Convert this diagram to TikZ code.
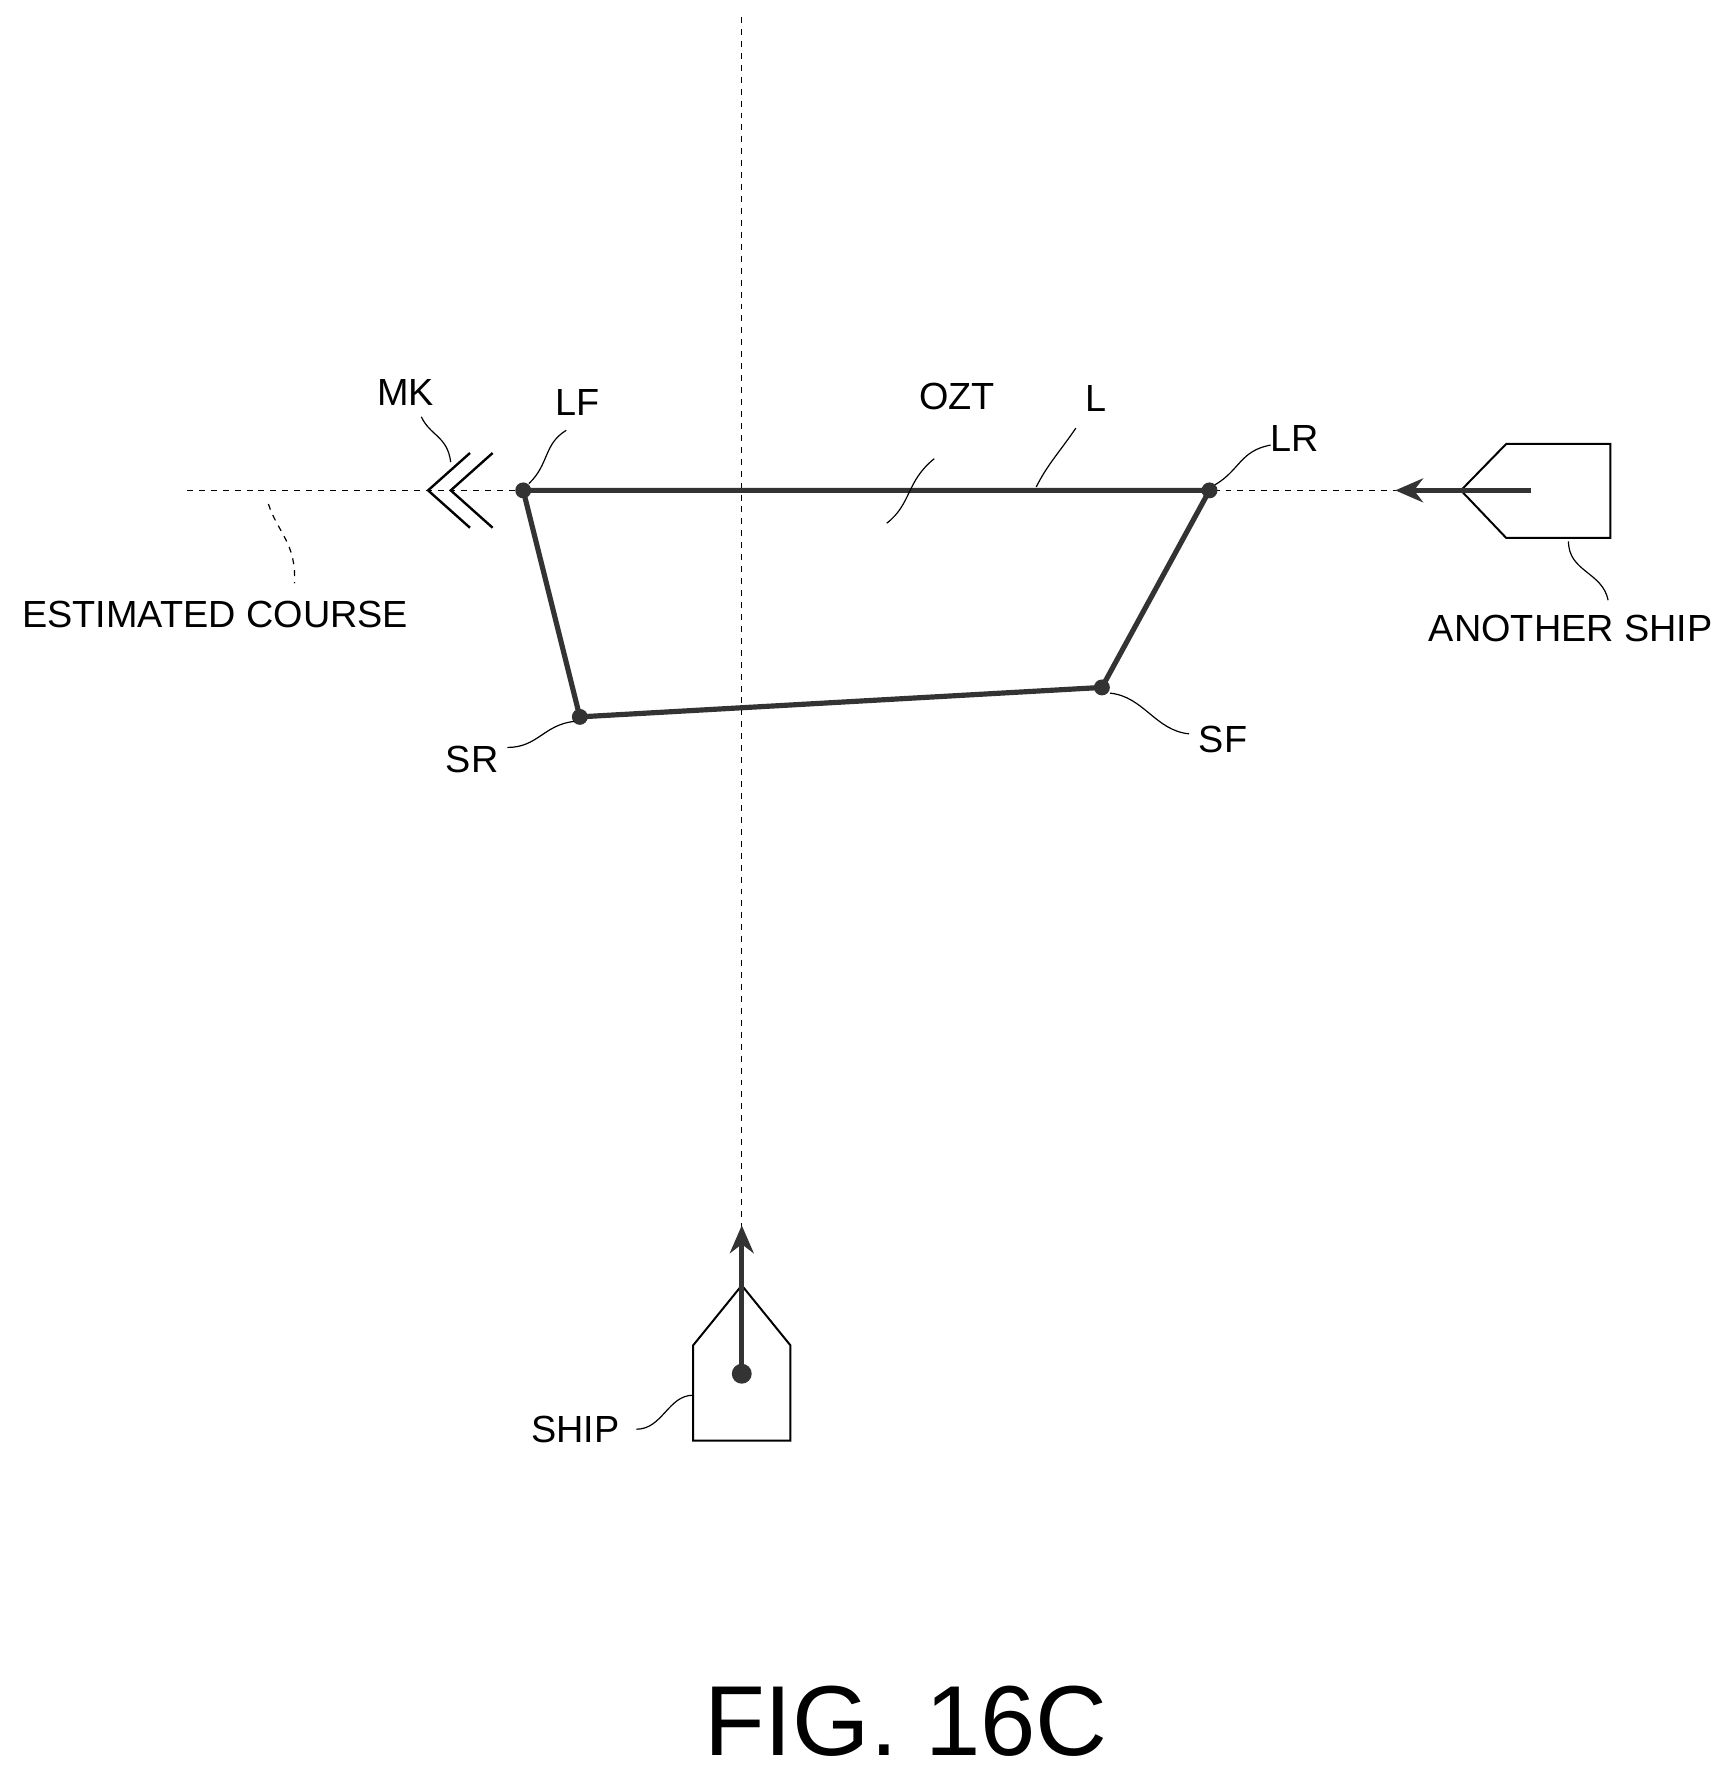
\documentclass[tikz,border=0pt]{standalone}
\usepackage{fontspec}
\setmainfont{Liberation Sans}
\usetikzlibrary{arrows.meta}
\begin{document}
\begin{tikzpicture}[x=0.02cm,y=-0.02cm,
  lbl/.style={font=\fontsize{19}{22}\selectfont,inner sep=0pt},
  thickln/.style={line width=2.6pt,draw=black!80},
  dashln/.style={dashed,line width=0.6pt},
  leader/.style={line width=0.6pt},
  dot/.style={circle,fill=black!80,inner sep=0pt,minimum size=8pt}]
\useasboundingbox (0,0) rectangle (1530,1570);
% axes
\coordinate (vt) at (655,15); \coordinate (vb) at (655,1085);
\coordinate (hl) at (165,433); \coordinate (hr) at (1290,433);
\draw[dashln] (vt) -- (vb);
\draw[dashln] (hl) -- (hr);
% zone
\node[dot] (LF) at (462,433) {};
\node[dot] (LR) at (1068,433) {};
\node[dot] (SF) at (973,607) {};
\node[dot] (SR) at (512,633) {};
\draw[thickln,line join=round] (LF.center) -- (LR.center) -- (SF.center) -- (SR.center) -- cycle;
% MK chevrons
\draw[line width=1.2pt] (415,400) -- (378,433) -- (415,466);
\draw[line width=1.2pt] (435,400) -- (398,433) -- (435,466);
% another ship
\draw[line width=1pt] (1290,433) -- (1330,392) -- (1422,392) -- (1422,475) -- (1330,475) -- cycle;
\coordinate (as1) at (1352,433); \coordinate (as2) at (1232,433);
\draw[thickln,-{Stealth[length=14pt,width=12pt]}] (as1) -- (as2);
% own ship
\draw[line width=1pt] (655,1135) -- (698,1188) -- (698,1272) -- (612,1272) -- (612,1188) -- cycle;
\node[dot,minimum size=10pt] (sd) at (655,1213) {};
\coordinate (sa) at (655,1082);
\draw[thickln,-{Stealth[length=14pt,width=12pt]}] (sd.center) -- (sa);
% labels
\node[lbl] (mk) at (358,347) {MK};
\node[lbl] (lf) at (510,355) {LF};
\node[lbl] (ozt) at (845,350) {OZT};
\node[lbl] (l) at (968,352) {L};
\node[lbl] (lr) at (1143,387) {LR};
\node[lbl] (ec) at (190,543) {ESTIMATED COURSE};
\node[lbl] (an) at (1387,555) {ANOTHER SHIP};
\node[lbl] (sr) at (417,671) {SR};
\node[lbl] (sf) at (1080,653) {SF};
\node[lbl] (sh) at (508,1262) {SHIP};
\node[inner sep=0pt,font=\fontsize{50}{58}\selectfont] (fig) at (800,1520) {FIG. 16C};
% leaders
\draw[leader] (372,368) .. controls (380,385) and (395,385) .. (398,408);
\draw[leader] (500,380) .. controls (480,392) and (485,410) .. (467,427);
\draw[leader] (825,405) .. controls (800,425) and (805,445) .. (783,462);
\draw[leader] (950,378) .. controls (935,400) and (925,410) .. (915,430);
\draw[leader] (1122,393) .. controls (1095,398) and (1095,415) .. (1073,428);
\draw[leader,dashed] (237,445) .. controls (245,470) and (262,480) .. (260,515);
\draw[leader] (1385,478) .. controls (1385,505) and (1415,505) .. (1420,530);
\draw[leader] (448,660) .. controls (475,660) and (480,640) .. (507,637);
\draw[leader] (980,612) .. controls (1010,615) and (1020,645) .. (1050,648);
\draw[leader] (562,1262) .. controls (585,1262) and (590,1232) .. (612,1232);
\end{tikzpicture}
\end{document}
